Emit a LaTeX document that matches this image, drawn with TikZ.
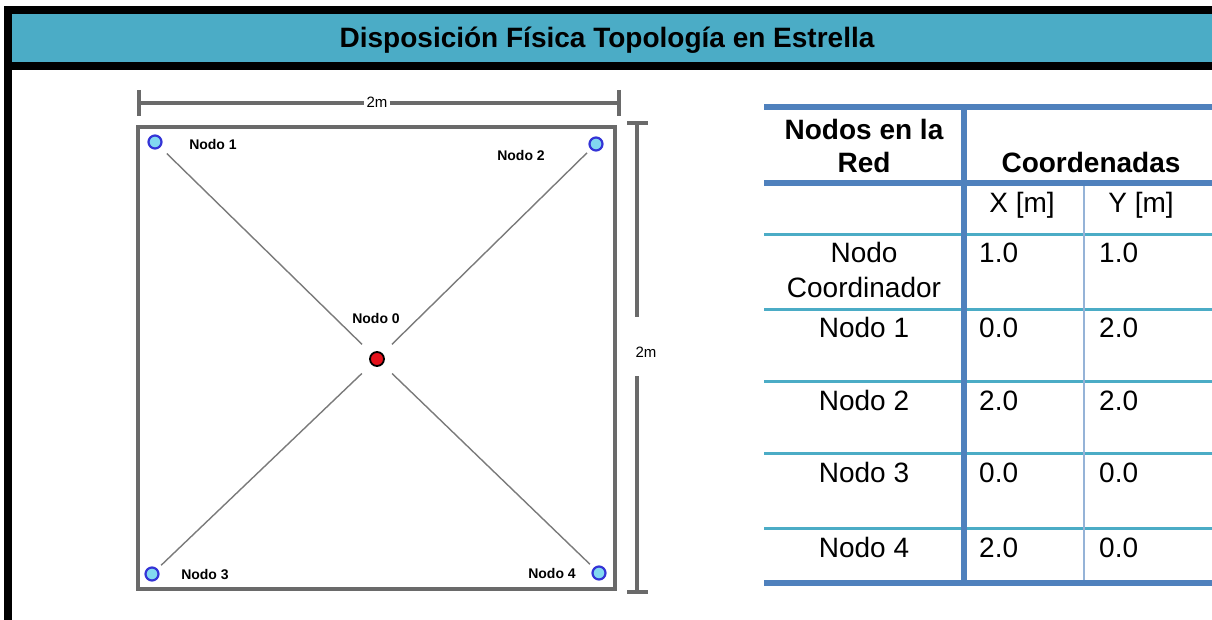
\documentclass[tikz,border=0pt]{standalone}
\usepackage{fontspec}
\setmainfont{Liberation Sans}
\definecolor{hdrteal}{HTML}{4BACC6}
\definecolor{tblblue}{HTML}{4F81BD}
\definecolor{tblthin}{HTML}{95B3D7}
\definecolor{rectgray}{HTML}{6A6A6A}
\definecolor{linkgray}{HTML}{7A7A7A}
\definecolor{ndblue}{HTML}{3434D6}
\definecolor{ndcyan}{HTML}{82D8F0}
\definecolor{ndred}{HTML}{E5121C}
\begin{document}
\begin{tikzpicture}[x=1pt,y=-1pt,
  pc/.style={circle,draw=ndblue,line width=2.2pt,fill=ndcyan,minimum size=13pt,inner sep=0pt},
  rc/.style={circle,draw=black,line width=1.8pt,fill=ndred,minimum size=14pt,inner sep=0pt},
  link/.style={draw=linkgray,line width=1.4pt},
  dimline/.style={draw=rectgray,line width=3.5pt},
  lbl/.style={font=\fontsize{14}{16}\selectfont\bfseries,anchor=base,inner sep=0pt},
  diml/.style={font=\fontsize{15}{17}\selectfont,anchor=base,inner sep=2pt},
  tt/.style={font=\fontsize{28}{32}\selectfont,anchor=base,inner sep=0pt},
  ttb/.style={font=\fontsize{28}{32}\selectfont\bfseries,anchor=base,inner sep=0pt},
  ttl/.style={font=\fontsize{28}{32}\selectfont,anchor=base west,inner sep=0pt},
  tealrule/.style={draw=hdrteal,line width=3pt},
  thickrule/.style={draw=tblblue,line width=5.5pt},
]
\useasboundingbox (0,0) rectangle (1212,620);
% frame and header
\fill[black] (4,6) rectangle (1212,70);
\fill[hdrteal] (12,14) rectangle (1212,62);
\fill[black] (4,70) rectangle (12,620);
\node[ttb] (title) at (607,48) {Disposición Física Topología en Estrella};

% dimensions
\node[diml] (dimh) at (377,108) {2m};
\node[diml] (dimv) at (646,357) {2m};
\draw[dimline] (139,103) -- (dimh.west |- 0,103);
\draw[dimline] (dimh.east |- 0,103) -- (619,103);
\draw[dimline] (139,90) -- (139,116);
\draw[dimline] (619,90) -- (619,116);
\draw[dimline] (637,123) -- (637,317);
\draw[dimline] (637,376) -- (637,592);
\draw[dimline] (627,123) -- (648,123);
\draw[dimline] (627,592) -- (648,592);

% room
\draw[draw=rectgray,line width=4pt] (138,127) rectangle (615,589);

% nodes
\node[rc] (n0) at (377,359) {};
\node[pc] (n1) at (155,142) {};
\node[pc] (n2) at (596,144) {};
\node[pc] (n3) at (152,574) {};
\node[pc] (n4) at (599,573) {};
\draw[link,shorten <=9pt,shorten >=13pt] (n1) -- (n0);
\draw[link,shorten <=5pt,shorten >=13pt] (n2) -- (n0);
\draw[link,shorten <=5pt,shorten >=13pt] (n3) -- (n0);
\draw[link,shorten <=5pt,shorten >=13pt] (n4) -- (n0);
\node[lbl] (l1) at (213,150) {Nodo 1};
\node[lbl] (l2) at (521,161) {Nodo 2};
\node[lbl] (l0) at (376,323) {Nodo 0};
\node[lbl] (l3) at (205,579) {Nodo 3};
\node[lbl] (l4) at (552,578) {Nodo 4};

% table rules
\draw[tealrule] (764,235) -- (1212,235);
\draw[tealrule] (764,309) -- (1212,309);
\draw[tealrule] (764,381) -- (1212,381);
\draw[tealrule] (764,453) -- (1212,453);
\draw[tealrule] (764,528) -- (1212,528);
\draw[draw=tblthin,line width=2pt] (1084,183) -- (1084,583);
\draw[thickrule] (964,107) -- (964,583);
\draw[thickrule] (764,107) -- (1212,107);
\draw[thickrule] (764,183) -- (1212,183);
\draw[thickrule] (764,583) -- (1212,583);

% table text
\node[ttb] (h1a) at (864,140) {Nodos en la};
\node[ttb] (h1b) at (864,173) {Red};
\node[ttb] (h2) at (1091,173) {Coordenadas};
\node[tt] (hx) at (1022,213) {X [m]};
\node[tt] (hy) at (1141,213) {Y [m]};
\node[tt] (r0a) at (864,263) {Nodo};
\node[tt] (r0b) at (864,298) {Coordinador};
\node[ttl] (r0x) at (979,263) {1.0};
\node[ttl] (r0y) at (1099,263) {1.0};
\node[tt] (r1) at (864,337) {Nodo 1};
\node[ttl] (r1x) at (979,337) {0.0};
\node[ttl] (r1y) at (1099,337) {2.0};
\node[tt] (r2) at (864,410) {Nodo 2};
\node[ttl] (r2x) at (979,410) {2.0};
\node[ttl] (r2y) at (1099,410) {2.0};
\node[tt] (r3) at (864,482) {Nodo 3};
\node[ttl] (r3x) at (979,482) {0.0};
\node[ttl] (r3y) at (1099,482) {0.0};
\node[tt] (r4) at (864,557) {Nodo 4};
\node[ttl] (r4x) at (979,557) {2.0};
\node[ttl] (r4y) at (1099,557) {0.0};
\end{tikzpicture}
\end{document}
